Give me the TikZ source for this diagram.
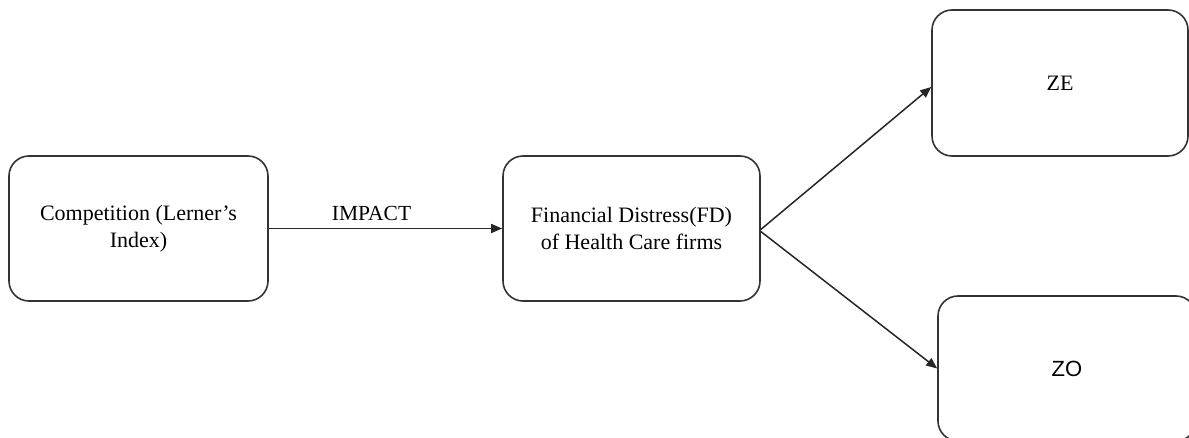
\documentclass[tikz,border=0pt]{standalone}
\usepackage{fontspec}
\setmainfont{Liberation Serif}
\newfontfamily\zosans{Liberation Sans}
\usetikzlibrary{arrows.meta}
\begin{document}
\begin{tikzpicture}[x=1pt,y=-1pt,
  box/.style={draw=black!80, line width=1.6pt, rounded corners=20pt, align=center,
    font=\fontsize{22}{27}\selectfont, inner sep=0pt},
  conn/.style={draw=black!85, line width=1.5pt, -{Triangle[length=11pt,width=9pt]}},
  lbl/.style={font=\fontsize{21.5}{25}\selectfont}]
\useasboundingbox (0,0) rectangle (1189,438);
\clip (0,0) rectangle (1189,438);
\node[box, minimum width=259pt, minimum height=145pt] (A) at (138.5,228.5) {Competition (Lerner’s\\Index)};
\node[box, minimum width=257pt, minimum height=145pt] (B) at (631.5,228.5) {Financial Distress(FD)\\of Health Care firms};
\node[box, minimum width=256pt, minimum height=146pt] (ZE) at (1060,83) {ZE};
\node[box, minimum width=258pt, minimum height=145pt, font=\zosans\fontsize{22}{26}\selectfont] (ZO) at (1067,368.5) {ZO};
\draw[conn] (A.east) -- node[lbl, pos=0.44, above=4pt] (imp) {IMPACT} (B.west);
\draw[conn] ([yshift=-1pt]B.east) -- ([yshift=-4pt]ZE.west);
\draw[conn] ([yshift=-3pt]B.east) -- (ZO.west);
\end{tikzpicture}
\end{document}
